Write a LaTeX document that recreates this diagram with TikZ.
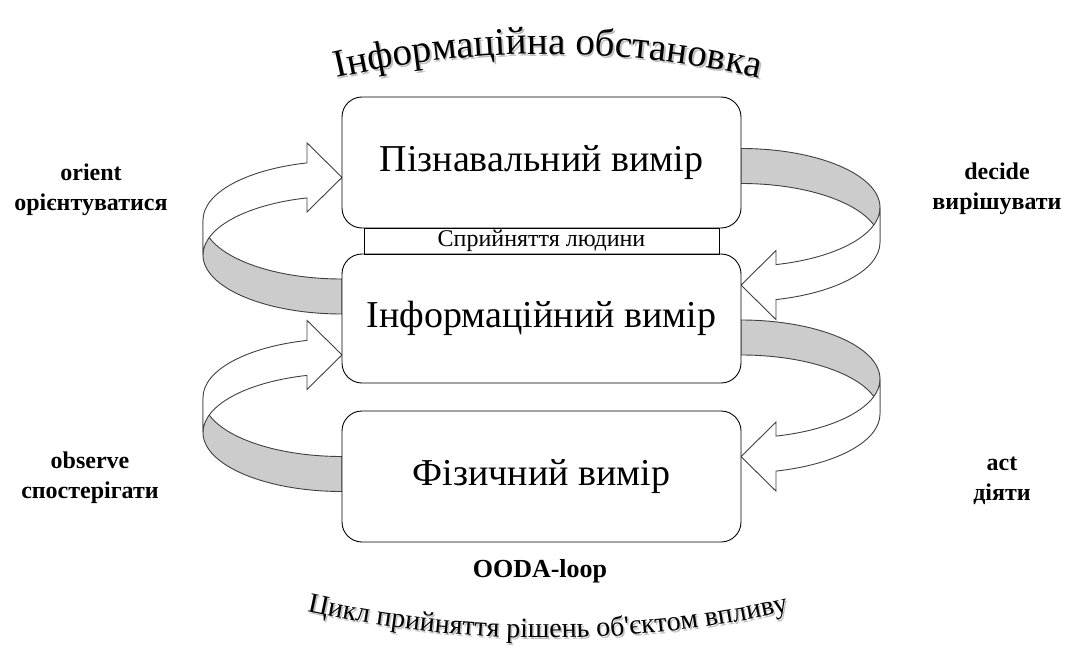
\documentclass[tikz,border=0pt]{standalone}
\usepackage{fontspec}
\setmainfont{Liberation Serif}
\newfontfamily\arcfont{Liberation Serif}[Ligatures=TeXOff]

\newdimen\bendtotal
\newdimen\bendpos
\newdimen\bendw
% widths of the letters, taken outside the picture
\newcommand\bendmeasure[3]{%
  \global\bendtotal=0pt
  \foreach \ch [count=\i] in {#3}{%
    \settowidth{\bendw}{#2\ch}%
    \expandafter\xdef\csname bw-#1-\i\endcsname{\the\bendw}%
    \global\advance\bendtotal by \bendw}%
  \expandafter\xdef\csname bt-#1\endcsname{\the\bendtotal}%
}
% letters set one by one along a circle of radius #5 (negative: bent down)
\newcommand\bendtext[8]{%
  \global\bendpos=\csname bt-#1\endcsname
  \global\bendpos=-0.5\bendpos
  \foreach \ch [count=\i] in {#8}{%
    \bendw=\csname bw-#1-\i\endcsname\relax
    \pgfmathsetmacro\bendang{(\bendpos+0.5*\bendw)/(#5)*57.29578}%
    \node[anchor=base, inner sep=0pt, rotate=-\bendang, font=#6, #7] (#2-\i)
      at ({#3+(#5)*sin(\bendang)}, {#4+(#5)-(#5)*cos(\bendang)}) {\ch};
    \global\advance\bendpos by \bendw
  }%
}

\tikzset{
  loop arrow/.pic={
    \filldraw[ringline, fill=ringgray] (0,59) arc[start angle=90, end angle=180, x radius=139, y radius=59]
      -- (-139,35) arc[start angle=180, end angle=90, x radius=139, y radius=59] -- cycle;
    \filldraw[ringline, fill=white] (-139,0) arc[start angle=180, end angle=255.42, x radius=139, y radius=59]
      -- (-35,-77.1) -- (0,-42.6) -- (-35,-8.1) -- (-35,-22.1)
      arc[start angle=255.42, end angle=180, x radius=139, y radius=59] -- cycle;
  }
}
\colorlet{ringgray}{black!20}
\colorlet{ringline}{black!75}

\newcommand\envletters{І,н,ф,о,р,м,а,ц,і,й,н,а,~,о,б,с,т,а,н,о,в,к,а}
\newcommand\cycletters{Ц,и,к,л,~,п,р,и,й,н,я,т,т,я,~,р,і,ш,е,н,ь,~,о,б,',є,к,т,о,м,~,в,п,л,и,в,у}

\begin{document}
\bendmeasure{env}{\arcfont\fontsize{39}{44}\selectfont}{І,н,ф,о,р,м,а,ц,і,й,н,а,~,о,б,с,т,а,н,о,в,к,а}%
\bendmeasure{cyc}{\arcfont\fontsize{28}{32}\selectfont}{Ц,и,к,л,~,п,р,и,й,н,я,т,т,я,~,р,і,ш,е,н,ь,~,о,б,',є,к,т,о,м,~,в,п,л,и,в,у}%
\begin{tikzpicture}[
  x=1pt, y=-1pt,
  ringline/.style={draw=ringline, line width=0.9pt},
  dimbox/.style={draw, line width=0.9pt, fill=white, rounded corners=20pt, inner sep=0pt,
    minimum width=399pt, font=\fontsize{38}{44}\selectfont},
  phase/.style={align=center, font=\bfseries\fontsize{24}{30}\selectfont},
]
\useasboundingbox (0,0) rectangle (1071,661);

\pic at (342,220) {loop arrow};
\pic at (342,397.5) {loop arrow};
\pic[rotate=180] at (741,242.5) {loop arrow};
\pic[rotate=180] at (741,414) {loop arrow};

\node[dimbox, minimum height=131pt] (cog) at (541.5,162.5) {Пізнавальний вимір};
\node[dimbox, minimum height=129pt] (info) at (541.5,318.5) {Інформаційний вимір};
\node[dimbox, minimum height=131pt] (phys) at (541.5,476.5) {Фізичний вимір};
\node[draw, line width=0.9pt, minimum width=355pt, minimum height=26pt, inner sep=0pt,
  text height=16pt, text depth=6pt, font=\fontsize{24}{26}\selectfont] (perc) at (541.5,241) {Сприйняття людини};

\node[phase] (orient) at (91,190) {orient\\орієнтуватися};
\node[phase] (observe) at (90,478) {observe\\спостерігати};
\node[phase] (decide) at (997,189) {decide\\вирішувати};
\node[phase] (act) at (1002,481) {act\\діяти};
\node[font=\bfseries\fontsize{26}{30}\selectfont] (ooda) at (540,571) {OODA-loop};

\bendtext{env}{envs}{549.5}{56}{950}{\arcfont\fontsize{39}{44}\selectfont}{text=black!25}{І,н,ф,о,р,м,а,ц,і,й,н,а,~,о,б,с,т,а,н,о,в,к,а}
\bendtext{env}{env}{548}{54}{950}{\arcfont\fontsize{39}{44}\selectfont}{}{І,н,ф,о,р,м,а,ц,і,й,н,а,~,о,б,с,т,а,н,о,в,к,а}
\bendtext{cyc}{cycs}{549.5}{640}{-1100}{\arcfont\fontsize{28}{32}\selectfont}{text=black!25}{Ц,и,к,л,~,п,р,и,й,н,я,т,т,я,~,р,і,ш,е,н,ь,~,о,б,',є,к,т,о,м,~,в,п,л,и,в,у}
\bendtext{cyc}{cyc}{548}{638}{-1100}{\arcfont\fontsize{28}{32}\selectfont}{}{Ц,и,к,л,~,п,р,и,й,н,я,т,т,я,~,р,і,ш,е,н,ь,~,о,б,',є,к,т,о,м,~,в,п,л,и,в,у}
\end{tikzpicture}
\end{document}
